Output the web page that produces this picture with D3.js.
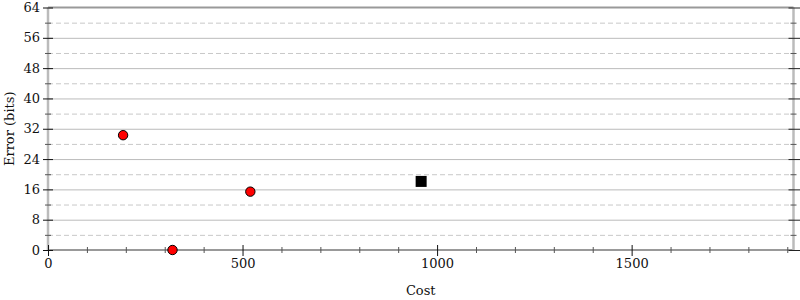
<!DOCTYPE html>
<html>
<head>
<meta charset="utf-8">
<script src="https://cdn.jsdelivr.net/npm/d3@7"></script>
<style>
  body { margin: 0; background: white; }
  svg text { font-family: "DejaVu Serif", "Liberation Serif", serif; fill: #111; }
</style>
</head>
<body>
<div id="chart"></div>
<script>
// Data
var circle_x = [193, 320, 520];
var circle_y = [30.3, 0, 15.4];
var square_x = [959];
var square_y = [18.1];

var x_major = [0, 500, 1000, 1500];
var x_minor = [100, 200, 300, 400, 600, 700, 800, 900, 1100, 1200, 1300, 1400, 1600, 1700, 1800, 1900];
var y_major = [0, 8, 16, 24, 32, 40, 48, 56, 64];
var y_minor = [4, 12, 20, 28, 36, 44, 52, 60];

var W = 800, H = 300;
var margin = {top: 7.5, right: 6.5, bottom: 50, left: 48};
var width = W - margin.left - margin.right;
var height = H - margin.top - margin.bottom;
var font = '"DejaVu Serif", "Liberation Serif", serif';

var x_scale = d3.scaleLinear().domain([0, 1916]).range([0, width]);
var y_scale = d3.scaleLinear().domain([0, 64]).range([height, 0]);

var svg = d3.select('#chart')
  .append('svg')
  .attr('width', W)
  .attr('height', H)
  .style('background-color', 'white');

var chart = svg.append('g')
  .attr('transform', 'translate(' + margin.left + ',' + margin.top + ')');

// Gridlines
chart.append('g')
  .call(d3.axisLeft(y_scale).tickValues(y_major.slice(1, -1)).tickSize(-width).tickFormat(''))
  .call(function (g) { g.select('.domain').remove(); })
  .selectAll('line').attr('stroke', '#bbb');

chart.append('g')
  .call(d3.axisLeft(y_scale).tickValues(y_minor).tickSize(-width).tickFormat(''))
  .call(function (g) { g.select('.domain').remove(); })
  .selectAll('line').attr('stroke', '#c8c8c8').attr('stroke-dasharray', '5,3');

// Frame: top and bottom darker, sides lighter
chart.append('line').attr('x1', 0).attr('x2', width).attr('y1', 0).attr('y2', 0)
  .attr('stroke', '#999').attr('stroke-width', 2);
chart.append('line').attr('x1', 0).attr('x2', width).attr('y1', height).attr('y2', height)
  .attr('stroke', '#999').attr('stroke-width', 2);
chart.append('line').attr('x1', 0).attr('x2', 0).attr('y1', 0).attr('y2', height)
  .attr('stroke', '#bbb').attr('stroke-width', 2.5);
chart.append('line').attr('x1', width).attr('x2', width).attr('y1', 0).attr('y2', height)
  .attr('stroke', '#bbb').attr('stroke-width', 2.5);

// Ticks crossing the axes
function ticks(axis, values, size, color, tx, ty) {
  chart.append('g')
    .attr('transform', 'translate(' + tx + ',' + ty + ')')
    .call(axis.tickValues(values).tickSize(size).tickFormat(''))
    .call(function (g) { g.select('.domain').remove(); })
    .selectAll('line').attr('stroke', color);
}
// left
ticks(d3.axisLeft(y_scale), y_major, 10, '#111', 5, 0);
ticks(d3.axisLeft(y_scale), y_minor, 6, '#555', 3, 0);
// right
ticks(d3.axisRight(y_scale), y_major, 12, '#222', width - 5, 0);
ticks(d3.axisRight(y_scale), y_minor, 6, '#555', width - 3, 0);
// bottom
ticks(d3.axisBottom(x_scale), x_major, 11, '#111', 0, height - 5);
ticks(d3.axisBottom(x_scale), x_minor, 6, '#555', 0, height - 3);

// Tick labels
chart.append('g')
  .attr('font-family', font)
  .call(d3.axisLeft(y_scale).tickValues(y_major).tickSize(0).tickPadding(8).tickFormat(d3.format('d')))
  .call(function (g) { g.select('.domain').remove(); })
  .selectAll('text').style('font-size', '13px').style('font-family', font);

chart.append('g')
  .attr('font-family', font)
  .attr('transform', 'translate(0,' + height + ')')
  .call(d3.axisBottom(x_scale).tickValues(x_major).tickSize(0).tickPadding(9).tickFormat(d3.format('d')))
  .call(function (g) { g.select('.domain').remove(); })
  .selectAll('text').style('font-size', '13px').style('font-family', font);

// Axis titles
svg.append('text')
  .attr('x', margin.left + width / 2)
  .attr('y', 295)
  .style('text-anchor', 'middle')
  .style('font-size', '13px')
  .style('font-family', font)
  .text('Cost');

svg.append('text')
  .attr('transform', 'rotate(-90)')
  .attr('x', -(margin.top + height / 2))
  .attr('y', 14)
  .style('text-anchor', 'middle')
  .style('font-size', '13px')
  .style('font-family', font)
  .text('Error (bits)');

// Points
chart.selectAll('circle.pt')
  .data(circle_y)
  .enter()
  .append('circle')
  .attr('class', 'pt')
  .attr('cx', function (d, i) { return x_scale(circle_x[i]); })
  .attr('cy', function (d) { return y_scale(d); })
  .attr('r', 4.7)
  .style('fill', '#ff0000')
  .style('stroke', '#000')
  .style('stroke-width', 1);

var sq = 11;
chart.selectAll('rect.pt')
  .data(square_y)
  .enter()
  .append('rect')
  .attr('class', 'pt')
  .attr('x', function (d, i) { return x_scale(square_x[i]) - sq / 2; })
  .attr('y', function (d) { return y_scale(d) - sq / 2; })
  .attr('width', sq)
  .attr('height', sq)
  .style('fill', '#000');
</script>
</body>
</html>
